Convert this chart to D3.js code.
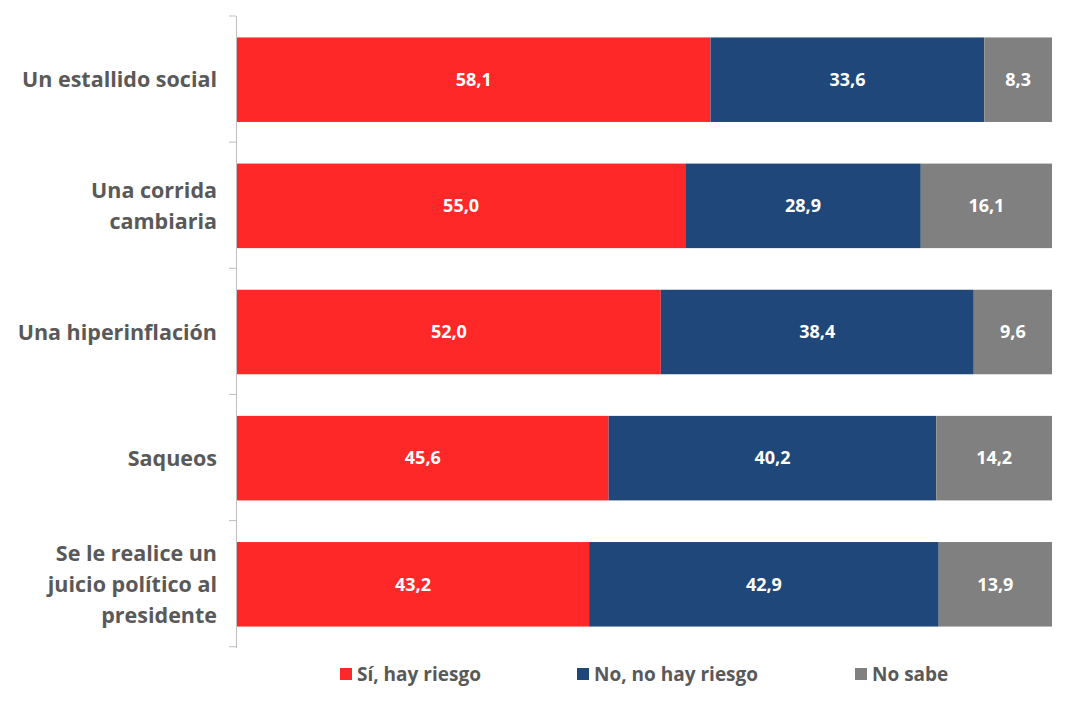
<!DOCTYPE html>
<html><head><meta charset="utf-8">
<script src="https://cdn.jsdelivr.net/npm/d3@7"></script>
<style>body{margin:0;background:#fff}</style>
</head><body><svg id="c" width="1074" height="706"></svg>
<script>
const categories = [["Un estallido social"],["Una corrida","cambiaria"],["Una hiperinflación"],["Saqueos"],["Se le realice un","juicio político al","presidente"]];
const si = [58.1,55.0,52.0,45.6,43.2];
const no = [33.6,28.9,38.4,40.2,42.9];
const ns = [8.3,16.1,9.6,14.2,13.9];
const seriesNames = ["Sí, hay riesgo","No, no hay riesgo","No sabe"];
const colors = ["#FF2828","#1F477A","#808080"];
const font = "'Open Sans', sans-serif";
const svg = d3.select("#c");
const x = d3.scaleLinear().domain([0,100]).range([237,1052]);
const y = d3.scaleBand().domain(d3.range(5)).range([16,648]).paddingInner(0.33).paddingOuter(0.17);
const series = [si,no,ns];
const data = d3.range(5).map(i=>({i,vals:series.map(s=>s[i])}));
data.forEach(d=>{
  let acc=0;
  d.vals.forEach((v,k)=>{
    svg.append("rect").attr("x",x(acc)).attr("y",y(d.i)).attr("width",x(acc+v)-x(acc)).attr("height",y.bandwidth()).attr("fill",colors[k]);
    svg.append("text").attr("x",(x(acc)+x(acc+v))/2).attr("y",y(d.i)+y.bandwidth()/2).attr("dy","0.35em")
      .attr("text-anchor","middle").attr("fill","#fff").attr("font-family",font).attr("font-weight","bold").attr("font-size",18)
      .text(v.toFixed(1).replace(".",","));
    acc+=v;
  });
  const lines = categories[d.i];
  const lh=31, cy=y(d.i)+y.bandwidth()/2;
  lines.forEach((l,j)=>{
    svg.append("text").attr("x",217).attr("y",cy+(j-(lines.length-1)/2)*lh).attr("dy","0.35em").attr("text-anchor","end")
      .attr("fill","#595959").attr("font-family",font).attr("font-weight","bold").attr("font-size",21.5).text(l);
  });
});
const step = y.step();
svg.append("line").attr("x1",236.5).attr("x2",236.5).attr("y1",16).attr("y2",648).attr("stroke","#bfbfbf");
d3.range(6).forEach(k=>{
  const yy=16+k*step;
  svg.append("line").attr("x1",229).attr("x2",236).attr("y1",yy).attr("y2",yy).attr("stroke","#bfbfbf");
});
const lx=[340,577,855];
seriesNames.forEach((n,k)=>{
  svg.append("rect").attr("x",lx[k]).attr("y",668).attr("width",12).attr("height",12).attr("fill",colors[k]);
  svg.append("text").attr("x",lx[k]+17).attr("y",674).attr("dy","0.35em").attr("fill","#595959")
    .attr("font-family",font).attr("font-weight","bold").attr("font-size",19).text(n);
});
</script></body></html>
